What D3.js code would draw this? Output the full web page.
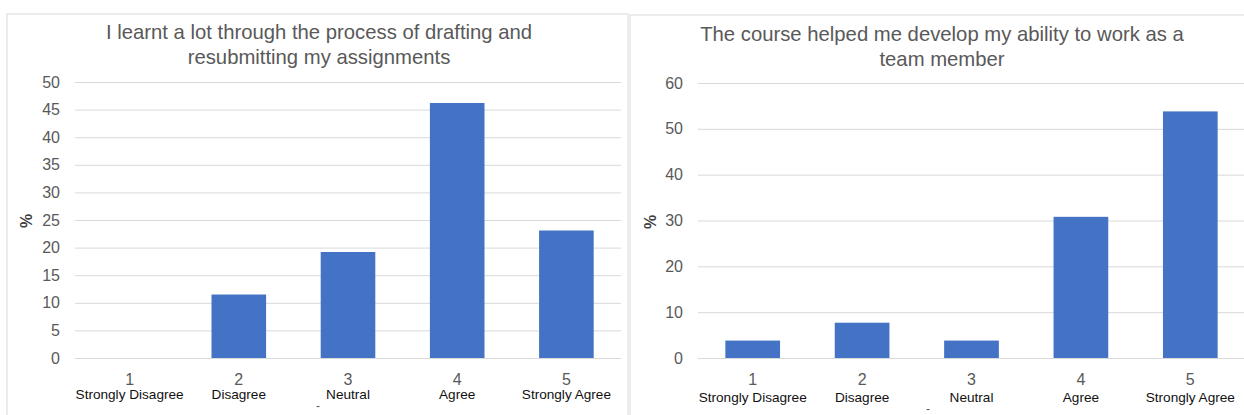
<!DOCTYPE html>
<html><head><meta charset="utf-8">
<script src="https://cdn.jsdelivr.net/npm/d3@7"></script>
<style>body{margin:0;background:#fff;}svg{display:block;font-family:"Liberation Sans",Arial,sans-serif;}</style>
</head><body>
<svg id="c" width="1244" height="415"></svg>
<script>
const categoryNumbers = ["1","2","3","4","5"];
const categoryLabels = ["Strongly Disagree","Disagree","Neutral","Agree","Strongly Agree"];
const leftTitle = ["I learnt a lot through the process of drafting and","resubmitting my assignments"];
const leftValues = [0, 11.5, 19.2, 46.2, 23.1];
const leftTicks = [0,5,10,15,20,25,30,35,40,45,50];
const rightTitle = ["The course helped me develop my ability to work as a","team member"];
const rightValues = [3.8, 7.7, 3.8, 30.8, 53.8];
const rightTicks = [0,10,20,30,40,50,60];
const yLabel = "%";

const svg = d3.select("#c");

function drawChart(cfg){
  const g = svg.append("g");
  g.append("rect").attr("x",cfg.px).attr("y",cfg.py).attr("width",cfg.pw).attr("height",cfg.ph)
    .attr("fill","#fff").attr("stroke","#d9d9d9").attr("stroke-width",1);
  const x = d3.scaleBand().domain(cfg.cats).range([cfg.x0,cfg.x1]).paddingInner(0.5).paddingOuter(0.25);
  const y = d3.scaleLinear().domain([0,d3.max(cfg.ticks)]).range([cfg.y0,cfg.y1]);
  const ya = g.append("g").attr("transform",`translate(${cfg.x0},0)`)
    .call(d3.axisLeft(y).tickValues(cfg.ticks).tickSize(-(cfg.x1-cfg.x0)).tickPadding(15));
  ya.select(".domain").remove();
  ya.selectAll(".tick line").attr("stroke","#d9d9d9");
  ya.selectAll(".tick text").attr("fill","#595959").style("font-size","16px").style("font-family","Liberation Sans, Arial, sans-serif");
  g.selectAll(".bar").data(cfg.values).enter().append("rect")
    .attr("x",(d,i)=>x(cfg.cats[i])).attr("width",x.bandwidth())
    .attr("y",d=>y(d)).attr("height",d=>y(0)-y(d)).attr("fill","#4472C4");
  cfg.cats.forEach((c,i)=>{
    const cx = x(c)+x.bandwidth()/2;
    g.append("text").attr("x",cx).attr("y",cfg.numY).attr("text-anchor","middle")
      .attr("fill","#595959").style("font-size","16px").text(c);
    g.append("text").attr("x",cx).attr("y",cfg.labY).attr("text-anchor","middle")
      .attr("fill","#111").style("font-size","13.6px").text(cfg.labels[i]);
  });
  cfg.title.forEach((t,i)=>{
    g.append("text").attr("x",cfg.tx).attr("y",cfg.ty+i*25).attr("text-anchor","middle")
      .attr("fill","#595959").style("font-size","20.3px").text(t);
  });
  g.append("text").attr("transform",`translate(${cfg.ylx},${cfg.yly}) rotate(-90)`)
    .attr("text-anchor","middle").attr("fill","#404040").style("font-size","16px").style("font-weight","bold").text(yLabel);
  g.append("text").attr("x",cfg.dx).attr("y",cfg.dy).attr("text-anchor","middle")
    .attr("fill","#595959").style("font-size","12px").text("-");
}

drawChart({px:7,py:14,pw:621,ph:410,x0:75,x1:621,y0:358,y1:82,
  cats:categoryNumbers,labels:categoryLabels,values:leftValues,ticks:leftTicks,
  title:leftTitle,tx:319,ty:39,numY:385,labY:399,ylx:32,yly:221,dx:318,dy:410});
drawChart({px:630,py:15,pw:630,ph:410,x0:698,x1:1245,y0:358,y1:83,
  cats:categoryNumbers,labels:categoryLabels,values:rightValues,ticks:rightTicks,
  title:rightTitle,tx:942,ty:41,numY:385,labY:402,ylx:656,yly:222,dx:928,dy:413});
</script>
</body></html>
